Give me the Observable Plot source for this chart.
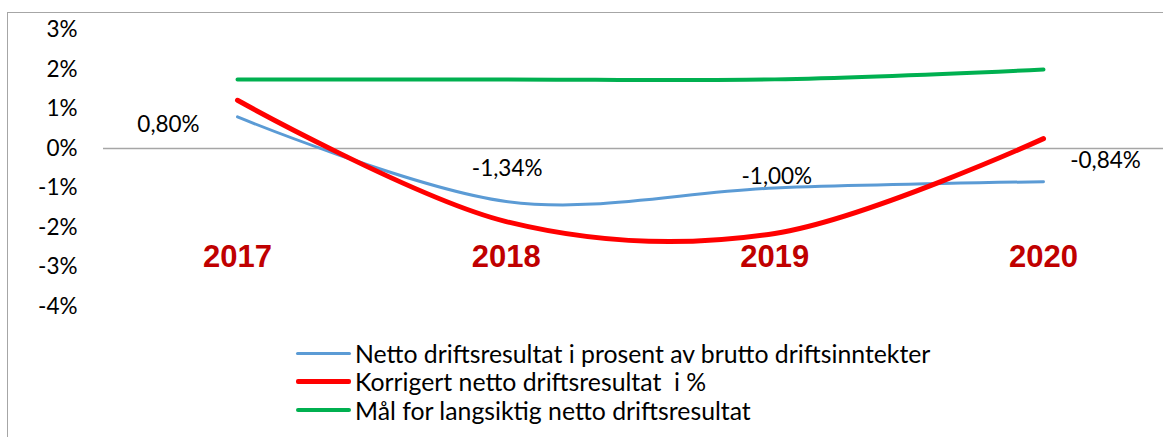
<!DOCTYPE html>
<html>
<head>
<meta charset="utf-8">
<script src="https://cdn.jsdelivr.net/npm/d3@7"></script>
<script src="https://cdn.jsdelivr.net/npm/@observablehq/plot@0.6"></script>
<style>
  html, body { margin: 0; padding: 0; background: #fff; }
  #wrap { position: relative; width: 1163px; height: 437px; overflow: hidden; font-family: Lato, "Open Sans", sans-serif; }
  #border { position: absolute; left: 7px; top: 12px; right: 0; bottom: 0; border-left: 1.5px solid #a6a6a6; border-top: 1.5px solid #a6a6a6; }
  #chart { position: absolute; left: 0; top: 0; }
  #legend { position: absolute; left: 296px; top: 339px; font-size: 24.8px; color: #000; }
  .item { display: flex; align-items: center; height: 28.6px; }
  .sw { width: 55px; margin-right: 4px; border-radius: 2px; }
</style>
</head>
<body>
<div id="wrap">
  <div id="border"></div>
  <div id="chart"></div>
  <div id="legend"></div>
</div>
<script>
const years = [2017, 2018, 2019, 2020];
const netto = [0.80, -1.34, -1.00, -0.84];
const korrigert = [1.22, -1.85, -2.15, 0.25];
const maal = [1.75, 1.75, 1.75, 2.00];
const yTicks = [3, 2, 1, 0, -1, -2, -3, -4];
const seriesNames = [
  "Netto driftsresultat i prosent av brutto driftsinntekter",
  "Korrigert netto driftsresultat  i %",
  "Mål for langsiktig netto driftsresultat"
];
const colors = ["#5b9bd5", "#ff0000", "#00b050"];
const widths = [3, 5, 4];

const rows = (vals, s) => years.map((y, i) => ({year: y, value: vals[i], series: s}));
const data = [...rows(netto, 0), ...rows(korrigert, 1), ...rows(maal, 2)];
const fmtPct = v => (v < 0 ? "-" : "") + Math.abs(v).toFixed(2).replace(".", ",") + "%";
const nettoRows = rows(netto, 0);
const labelMark = (i, dx, dy) => Plot.text([nettoRows[i]], {
  x: "year", y: "value", text: d => fmtPct(d.value), dx, dy,
  fontSize: 22.5, fill: "#000", fontFamily: "Lato"
});

const chart = Plot.plot({
  width: 1163,
  height: 330,
  marginLeft: 103,
  marginRight: 0,
  marginTop: 29.5,
  marginBottom: 24,
  style: {background: "transparent", fontFamily: "Lato"},
  x: {type: "linear", domain: [2017, 2020], range: [237, 1043], axis: null},
  y: {domain: [-4, 3], range: [306, 29.5], ticks: yTicks, tickFormat: d => d + "%"},
  marks: [
    Plot.ruleY([0], {stroke: "#a6a6a6", strokeWidth: 1.5}),
    Plot.axisY({ticks: yTicks, tickFormat: d => (d < 0 ? "-" : "") + Math.abs(d) + "%", tickSize: 0, tickPadding: 26, fontSize: 22.5, fill: "#000", label: null}),
    Plot.line(data.filter(d => d.series === 2), {x: "year", y: "value", stroke: colors[2], strokeWidth: widths[2], curve: "cardinal", tension: 0}),
    Plot.line(data.filter(d => d.series === 0), {x: "year", y: "value", stroke: colors[0], strokeWidth: widths[0], curve: "cardinal", tension: 0}),
    Plot.line(data.filter(d => d.series === 1), {x: "year", y: "value", stroke: colors[1], strokeWidth: widths[1], curve: "cardinal", tension: 0}),
    labelMark(0, -69, 8),
    labelMark(1, 1, -33),
    labelMark(2, 2, -11),
    labelMark(3, 62, -21),
    Plot.text(years, {x: d => d, frameAnchor: "bottom", dy: -40, text: d => String(d),
      fontSize: 31, fontWeight: "bold", fill: "#c00000", fontFamily: "Liberation Sans"})
  ]
});
document.getElementById("chart").appendChild(chart);

const legend = document.getElementById("legend");
seriesNames.forEach((name, i) => {
  const item = document.createElement("div");
  item.className = "item";
  const sw = document.createElement("div");
  sw.className = "sw";
  sw.style.height = widths[i] + "px";
  sw.style.background = colors[i];
  const t = document.createElement("span");
  t.textContent = name;
  t.style.whiteSpace = "pre";
  item.appendChild(sw);
  item.appendChild(t);
  legend.appendChild(item);
});
</script>
</body>
</html>
